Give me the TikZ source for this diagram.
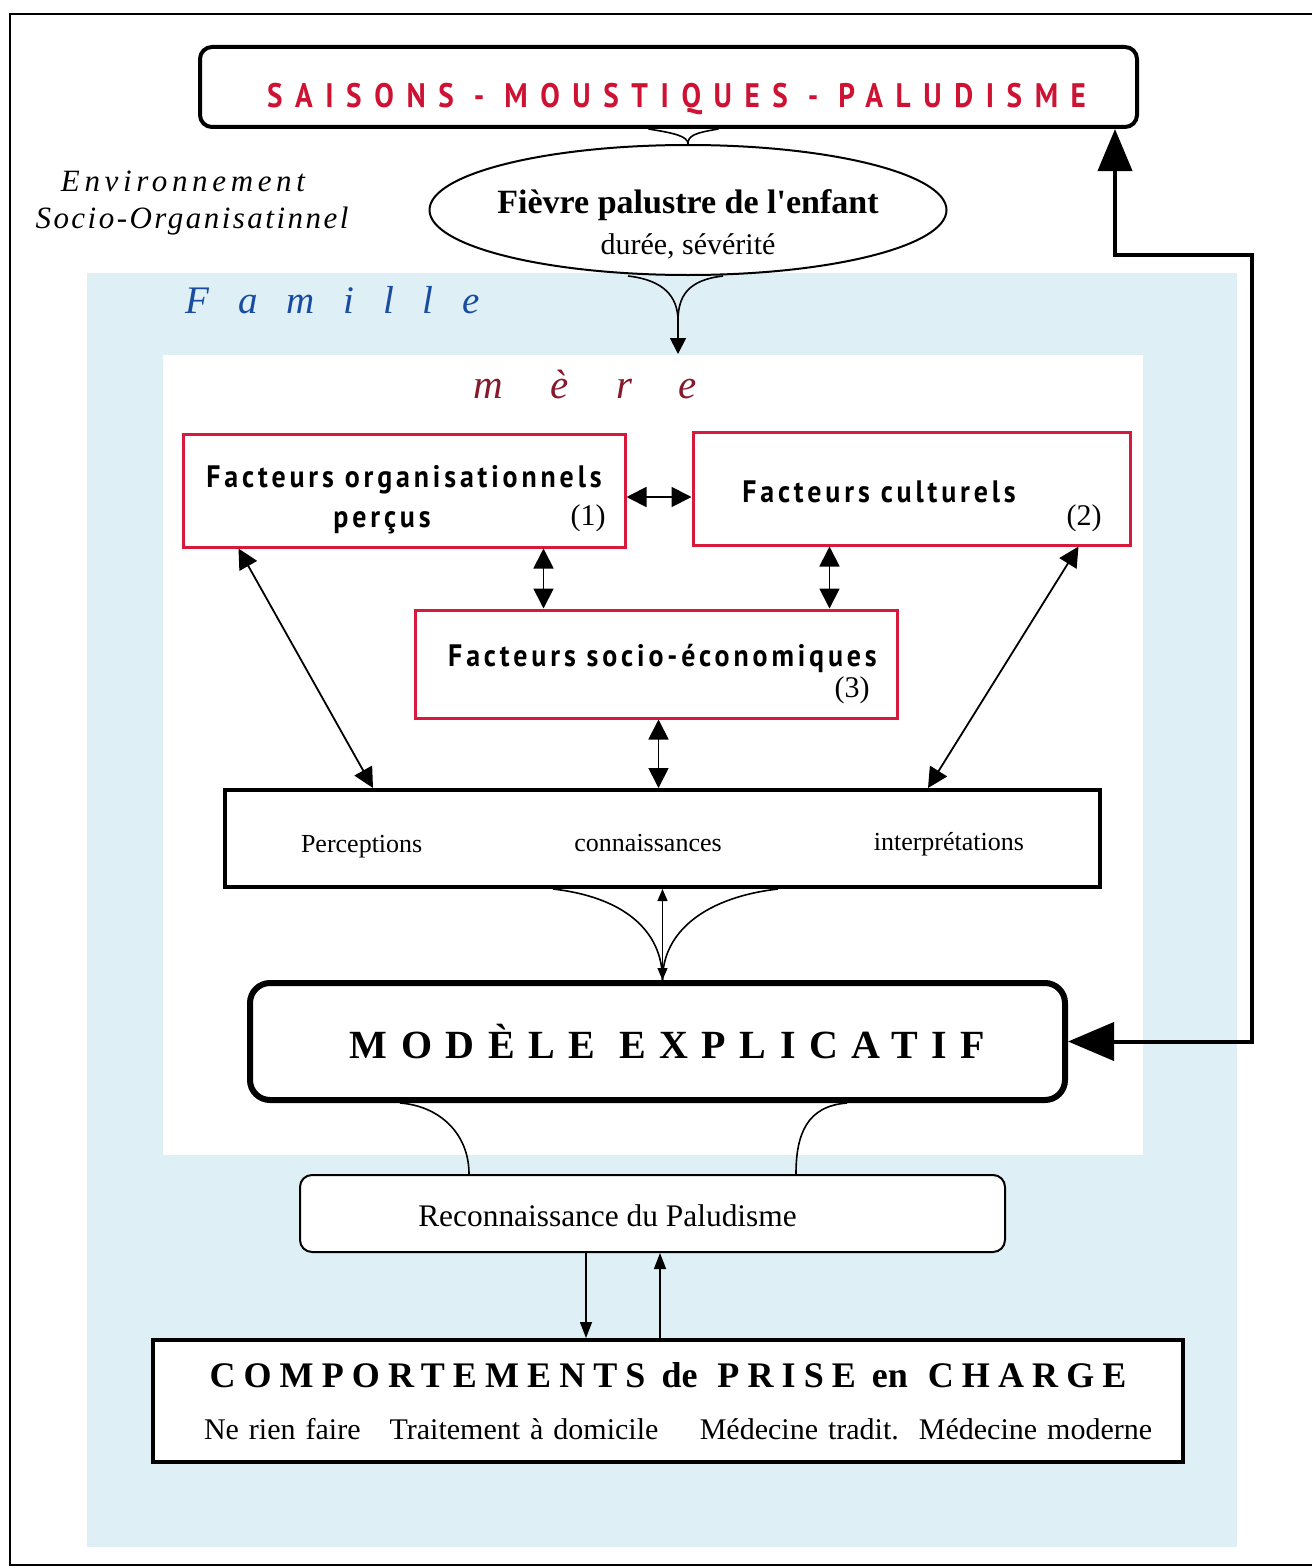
\documentclass[tikz,border=0pt]{standalone}
\usepackage{fontspec}
\setmainfont{Liberation Serif}
\newfontfamily\ptsans{PT Sans}
\newfontfamily\ptsanscond[FakeStretch=0.86]{PT Sans}
\newfontfamily\ptsansfac[FakeStretch=0.9]{PT Sans}
\usetikzlibrary{shapes.geometric,arrows.meta,calc}
\definecolor{crimson}{RGB}{205,18,52}
\definecolor{boxred}{RGB}{215,25,60}
\definecolor{famblue}{RGB}{25,75,160}
\definecolor{merered}{RGB}{135,25,45}
\definecolor{paleblue}{RGB}{222,240,246}
\newcommand\lsp[1]{{\addfontfeature{LetterSpace=22.5}#1}}
\newcommand\facfont{\ptsansfac\bfseries\fontsize{15.5pt}{20pt}\selectfont\addfontfeature{LetterSpace=12.5}}
\newcommand\dn[2]{\raisebox{-#1}[\height][\depth]{#2}}
\begin{document}
\begin{tikzpicture}[x=0.5pt,y=-0.5pt,
  redbox/.style={draw=boxred, line width=1.5pt, fill=white, inner sep=0pt, align=center, font=\facfont},
  numtxt/.style={inner sep=0pt, font=\fontsize{15pt}{18pt}\selectfont},
  dbl/.style={{Triangle[length=10pt,width=10pt]}-{Triangle[length=10pt,width=10pt]}, line width=0.9pt},
  smalldbl/.style={{Triangle[length=6pt,width=5pt]}-{Triangle[length=6pt,width=5pt]}, line width=0.7pt},
  onearrow/.style={-{Triangle[length=8pt,width=6pt]}, line width=0.7pt},
  curve/.style={line width=0.8pt},
  fb/.style={{Triangle[length=23pt,width=19pt]}-{Triangle[length=21pt,width=17pt]}, line width=2pt}
]
\useasboundingbox (0,0) rectangle (1312,1568);
% frame
\draw[line width=1.2pt] (1312,14) -- (10,14) -- (10,1565) -- (1312,1565);
% background zones
\fill[paleblue] (87,273) rectangle (1237,1547);
\fill[white] (163,355) rectangle (1143,1155);

% texts
\node[align=center, inner sep=0pt, font=\itshape\fontsize{15.5pt}{18.5pt}\selectfont\addfontfeature{LetterSpace=8}] (env) at (192,203)
  {{\addfontfeature{LetterSpace=15}Environnement}\kern9pt\\Socio-Organisatinnel};
\node[anchor=base west, inner sep=0pt, text=famblue, font=\itshape\fontsize{19.5pt}{22pt}\selectfont\addfontfeature{LetterSpace=74}] (famille) at (185,313) {Famille};
\node[anchor=base west, inner sep=0pt, text=merered, font=\itshape\fontsize{20.5pt}{24pt}\selectfont\addfontfeature{LetterSpace=116}] (mere) at (473,398) {mère};

% top box
\node[draw, line width=2pt, rounded corners=6pt, fill=white, minimum width=468.5pt, minimum height=40pt, inner sep=0pt,
  font=\ptsanscond\bfseries\fontsize{17pt}{20pt}\selectfont\addfontfeature{LetterSpace=37}, text=crimson] (saisons) at (668.5,87)
  {\kern8pt\dn{6pt}{SAISONS - MOUSTIQUES - PALUDISME}};

% ellipse
\node[ellipse, draw, line width=1pt, fill=white, minimum width=258.5pt, minimum height=65pt, inner sep=0pt] (fievre) at (688,210)
  {\makebox[0pt]{\raisebox{-11.5pt}[0pt][0pt]{\fontsize{15pt}{20.5pt}\selectfont\begin{tabular}{@{}c@{}}{\bfseries\fontsize{17pt}{20.5pt}\selectfont Fièvre palustre de l\textquotesingle enfant}\\ durée,\ sévérité\end{tabular}}}};

% red boxes
\node[redbox, minimum width=221pt, minimum height=56.5pt] (b1) at (404,490.5)
  {\dn{4.5pt}{\begin{tabular}{@{}c@{}}Facteurs organisationnels\\perçus\kern22pt\end{tabular}}};
\node[redbox, minimum width=218.5pt, minimum height=56.5pt] (b2) at (911.5,488.5) {\dn{1.5pt}{Facteurs culturels}\kern32.5pt};
\node[redbox, minimum width=241pt, minimum height=54pt] (b3) at (656,664) {\kern6.5pt\raisebox{3pt}[\height][\depth]{Facteurs socio-économiques}};
\node[numtxt] (n1) at (588,518) {(1)};
\node[numtxt] (n2) at (1084,518) {(2)};
\node[numtxt] (n3) at (852,690) {(3)};

% perceptions box
\node[draw, line width=2pt, fill=white, minimum width=437.5pt, minimum height=48.5pt, inner sep=0pt, text width=361.5pt,
  font=\fontsize{13pt}{15pt}\selectfont] (perc) at (662.5,838.5)
  {\dn{4pt}{Perceptions}\hfill\dn{3.5pt}{connaissances}\hfill\dn{3pt}{interprétations}};

% modele
\node[draw, line width=3pt, rounded corners=10pt, fill=white, minimum width=407.5pt, minimum height=58.5pt, inner sep=0pt,
  font=\bfseries\fontsize{20pt}{24pt}\selectfont\addfontfeature{LetterSpace=34}] (modele) at (657.5,1041.5) {\kern10pt MODÈLE EXPLICATIF};

% reconnaissance
\node[draw, line width=1pt, rounded corners=6pt, fill=white, minimum width=352.5pt, minimum height=38.5pt, inner sep=0pt,
  font=\fontsize{15.7pt}{18pt}\selectfont] (recon) at (652.5,1213.5) {\dn{1pt}{Reconnaissance du Paludisme}\kern45pt};

% comportements
\node[draw, line width=2pt, fill=white, minimum width=515pt, minimum height=61pt, inner sep=0pt, text width=474pt, align=center,
  font=\fontsize{15pt}{26pt}\selectfont] (comp) at (668,1401)
  {{\bfseries\fontsize{18pt}{26pt}\selectfont\lsp{COMPORTEMENTS}\hspace{8pt}de\hspace{10pt}\lsp{PRISE}\hspace{8pt}en\hspace{10pt}\lsp{CHARGE}}\\
   \hspace*{5pt}Ne rien faire\hspace{14.5pt}Traitement à domicile\hfill Médecine tradit.\hspace{10pt}Médecine moderne\kern-5pt};

% saisons -> fievre junction
\draw[curve] ($(saisons.south)+(-20,0)$) .. controls +(25,4) and +(0,-8) .. (fievre.north);
\draw[curve] ($(saisons.south)+(50,0)$) .. controls +(-25,4) and +(0,-8) .. (fievre.north);

% fievre -> mere
\coordinate (fj) at ($(fievre.south)+(-10,45)$);
\coordinate (mtop) at ($(fievre.south)+(-10,78)$);
\draw[curve] ($(fievre.south)+(-60,0)$) .. controls +(35,4) and +(0,-25) .. (fj);
\draw[curve] ($(fievre.south)+(35,0)$) .. controls +(-35,4) and +(0,-25) .. (fj);
\draw[-{Triangle[length=8pt,width=8pt]}, line width=0.9pt] (fj) -- (mtop);

% red box arrows
\draw[dbl] ($(b1.east)+(0,6.5)$) -- ($(b1.east -| b2.west)+(0,6.5)$);
\coordinate (a1) at ($(b1.south west)+(362,0)$);
\draw[dbl] (a1) -- (a1 |- b3.north);
\coordinate (a2) at ($(b2.south west)+(138,0)$);
\draw[dbl] (a2) -- (a2 |- b3.north);
\draw[dbl] ($(b1.south west)+(57,0)$) -- ($(perc.north west)+(150,0)$);
\draw[dbl] ($(b2.south west)+(387,0)$) -- ($(perc.north west)+(705,0)$);
\coordinate (a3) at ($(b3.south west)+(245,0)$);
\draw[dbl] (a3) -- (a3 |- perc.north);

% perceptions -> modele
\draw[smalldbl] (perc.south) -- (perc.south |- modele.north);
\draw[curve] ($(perc.south west)+(330,0)$) .. controls +(70,8) and +(0,-50) .. (perc.south |- modele.north);
\draw[curve] ($(perc.south west)+(555,0)$) .. controls +(-70,8) and +(0,-50) .. (perc.south |- modele.north);

% modele -> reconnaissance
\draw[curve] ($(modele.south west)+(153,0)$) .. controls +(40,3) and +(0,-40) .. ($(recon.north west)+(170,0)$);
\draw[curve] ($(modele.south west)+(600,0)$) .. controls +(-40,3) and +(0,-40) .. ($(recon.north west)+(497,0)$);

% reconnaissance <-> comportements
\coordinate (r1) at ($(recon.south west)+(287,0)$);
\coordinate (r2) at ($(recon.south west)+(361,0)$);
\draw[onearrow] (r1) -- (r1 |- comp.north);
\draw[onearrow] (r2 |- comp.north) -- (r2);

% feedback loop
\coordinate (fbr) at (1252,255);
\coordinate (fbl) at (1115,255);
\draw[fb] (modele.east) -| (fbr) -- (fbl) -- (saisons.south -| fbl);
\end{tikzpicture}
\end{document}
